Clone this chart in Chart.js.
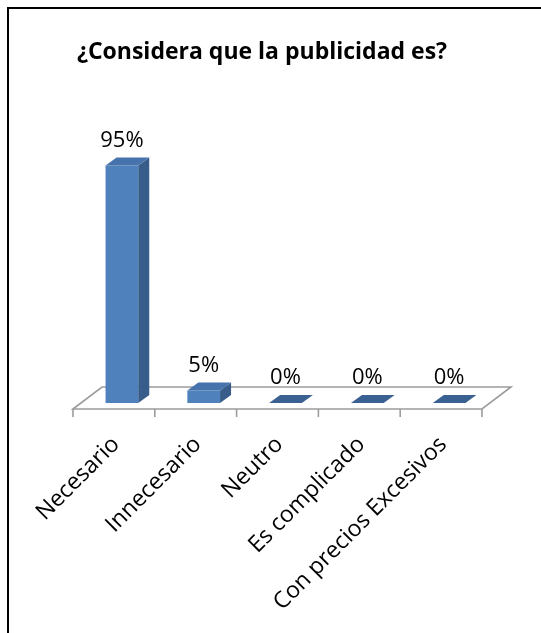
<!DOCTYPE html>
<html>
<head>
<meta charset="utf-8">
<script src="https://cdn.jsdelivr.net/npm/chart.js@4.4.1/dist/chart.umd.min.js"></script>
<style>
  html, body { margin: 0; padding: 0; background: #fff; overflow: hidden; }
  #wrap { position: relative; width: 541px; height: 633px; }
  #marco { position: absolute; left: 7px; top: 7px; width: 620px; height: 700px;
           border-left: 2px solid #000; border-top: 2px solid #000; }
  #grafico { position: absolute; left: 0; top: 0; }
</style>
</head>
<body>
<div id="wrap">
  <div id="marco"></div>
  <canvas id="grafico" width="541" height="633"></canvas>
</div>
<script>
const categorias = ["Necesario", "Innecesario", "Neutro", "Es complicado", "Con precios Excesivos"];
const porcentajes = [95, 5, 0, 0, 0];
const titulo = "¿Considera que la publicidad es?";

// desplazamientos de la perspectiva (suelo y fondo de cada barra)
const SUELO_FRENTE = { x: -8, y: 6 };
const SUELO_FONDO = { x: 21, y: -16 };
const PROF_BARRA = { x: 11, y: -8 };

const efecto3d = {
  id: "efecto3d",
  beforeDatasetsDraw(chart) {
    const { ctx, scales: { x, y } } = chart;
    const y0 = y.getPixelForValue(0);
    const fx0 = x.left + SUELO_FRENTE.x, fx1 = x.right + SUELO_FRENTE.x, fy = y0 + SUELO_FRENTE.y;
    const bx0 = x.left + SUELO_FONDO.x, bx1 = x.right + SUELO_FONDO.x, by = y0 + SUELO_FONDO.y;
    ctx.save();
    ctx.strokeStyle = "#9c9c9c";
    ctx.lineWidth = 1.6;
    ctx.beginPath();
    ctx.moveTo(fx0, fy);
    ctx.lineTo(bx0, by);
    ctx.lineTo(bx1, by);
    ctx.lineTo(fx1, fy);
    ctx.closePath();
    ctx.stroke();
    // marcas entre categorías
    const paso = (x.right - x.left) / categorias.length;
    ctx.beginPath();
    for (let i = 0; i <= categorias.length; i++) {
      const tx = fx0 + i * paso;
      ctx.moveTo(tx, fy);
      ctx.lineTo(tx, fy + 8);
    }
    ctx.stroke();
    ctx.restore();
  },
  afterDatasetsDraw(chart) {
    const { ctx } = chart;
    const meta = chart.getDatasetMeta(0);
    ctx.save();
    meta.data.forEach((bar, i) => {
      const { x: cx, y: top, base, width } = bar.getProps(["x", "y", "base", "width"], true);
      const l = cx - width / 2, r = cx + width / 2;
      const px = PROF_BARRA.x, py = PROF_BARRA.y;
      if (base - top > 0.5) {
        // cara lateral
        ctx.fillStyle = "#385d8a";
        ctx.beginPath();
        ctx.moveTo(r, top);
        ctx.lineTo(r + px, top + py);
        ctx.lineTo(r + px, base + py);
        ctx.lineTo(r, base);
        ctx.closePath();
        ctx.fill();
      }
      // cara superior
      ctx.fillStyle = porcentajes[i] > 0 ? "#4673ab" : "#3b6192";
      ctx.beginPath();
      ctx.moveTo(l, top);
      ctx.lineTo(r, top);
      ctx.lineTo(r + px, top + py);
      ctx.lineTo(l + px, top + py);
      ctx.closePath();
      ctx.fill();
      // etiqueta de valor
      ctx.fillStyle = "#000";
      ctx.font = "22px 'Open Sans'";
      ctx.textAlign = "center";
      ctx.textBaseline = "alphabetic";
      ctx.fillText(porcentajes[i] + "%", cx, top + py - 11);
    });
    ctx.restore();
  }
};

new Chart(document.getElementById("grafico"), {
  type: "bar",
  data: {
    labels: categorias,
    datasets: [{
      data: porcentajes,
      backgroundColor: "#4f81bd",
      borderWidth: 0,
      categoryPercentage: 1,
      barPercentage: 0.4
    }]
  },
  options: {
    responsive: false,
    animation: false,
    layout: { padding: { left: 0, right: 17, top: 0, bottom: 0 } },
    plugins: {
      legend: { display: false },
      tooltip: { enabled: false },
      title: {
        display: true,
        text: titulo,
        color: "#000",
        font: { family: "'Open Sans'", size: 23, weight: "bold", lineHeight: 1.2 },
        padding: { top: 39, bottom: 86.4 }
      }
    },
    scales: {
      y: { display: false, min: 0, max: 100 },
      x: {
        grid: { display: false, drawTicks: false },
        border: { display: false },
        ticks: {
          color: "#000",
          font: { family: "'Open Sans'", size: 23 },
          minRotation: 45,
          maxRotation: 45,
          autoSkip: false,
          padding: 28,
          labelOffset: -6
        },
        afterFit(scale) {
          scale.height = 230;
          scale.paddingLeft = 81;
          scale.paddingRight = 51;
        }
      }
    }
  },
  plugins: [efecto3d]
});
</script>
</body>
</html>
